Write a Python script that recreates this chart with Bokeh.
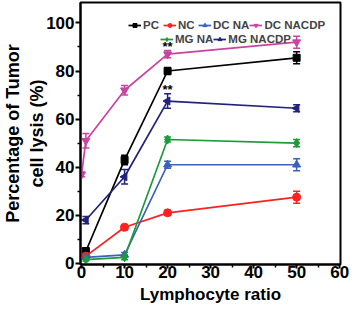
from bokeh.plotting import figure
from bokeh.models import ColumnDataSource, Whisker, Legend, LegendItem, Range1d, FixedTicker
from bokeh.embed import file_html
from bokeh.resources import INLINE
from bokeh.core.properties import value
import math

series_names = ["PC", "NC", "DC NA", "DC NACDP", "MG NA", "MG NACDP"]
x_pc = [1, 10, 20, 50]
y_pc = [5, 43, 80, 85.5]
e_pc = [1.5, 2, 1.5, 2.5]
x_nc = [1, 10, 20, 50]
y_nc = [3, 15, 21, 27.5]
e_nc = [0.5, 1, 1, 2.5]
x_dcna = [1, 10, 20, 50]
y_dcna = [2.5, 3.5, 41, 41]
e_dcna = [0.5, 1, 1.5, 2.5]
x_dcnacdp = [0, 1, 10, 20, 50]
y_dcnacdp = [37, 51, 72, 87, 92]
e_dcnacdp = [1, 3, 2, 1.5, 2.5]
x_mgna = [1, 10, 20, 50]
y_mgna = [1.5, 2.5, 51.5, 50]
e_mgna = [0.5, 1, 1, 1.5]
x_mgnacdp = [1, 10, 20, 50]
y_mgnacdp = [18, 36, 67.5, 64.5]
e_mgnacdp = [1.5, 3, 3, 1.5]
sig_x = [20, 20]
sig_y = [92, 74]
sig_text = ["**", "**"]

colors = ["#000000", "#FF2020", "#3A62B8", "#C8449E", "#1E9A3C", "#22227A"]
markers = ["square", "circle", "triangle", "inverted_triangle", "diamond", "triangle"]
angles = [0, 0, 0, 0, 0, math.pi / 2]
sizes = [7, 8, 8, 8, 9, 8]
data = [(x_pc, y_pc, e_pc), (x_nc, y_nc, e_nc), (x_dcna, y_dcna, e_dcna),
        (x_dcnacdp, y_dcnacdp, e_dcnacdp), (x_mgna, y_mgna, e_mgna), (x_mgnacdp, y_mgnacdp, e_mgnacdp)]

p = figure(width=350, height=306, output_backend="svg", toolbar_location=None,
           x_range=Range1d(-0.25, 60.2), y_range=Range1d(-0.5, 108.5),
           min_border_left=69, min_border_right=10, min_border_top=2, min_border_bottom=0)
p.outline_line_color = "black"
p.outline_line_width = 2
p.grid.visible = False

font = "Liberation Sans"
for ax in [p.xaxis[0], p.yaxis[0]]:
    ax.axis_line_color = "black"
    ax.axis_line_width = 2
    ax.major_tick_line_width = 2
    ax.minor_tick_line_width = 1.5
    ax.major_tick_in = 0
    ax.minor_tick_in = 0
    ax.major_label_text_font = font
    ax.major_label_text_font_style = "bold"
    ax.major_label_text_font_size = "17px"
    ax.major_label_text_color = "black"
    ax.axis_label_text_font = font
    ax.axis_label_text_font_style = "bold"
    ax.axis_label_text_color = "black"

p.xaxis.major_tick_out = 4
p.xaxis.minor_tick_out = 3
p.xaxis.major_label_standoff = -3
p.yaxis.major_tick_out = 5
p.yaxis.minor_tick_out = 3
p.yaxis.major_label_standoff = 1

p.xaxis.ticker = FixedTicker(ticks=[0, 10, 20, 30, 40, 50, 60], minor_ticks=[5, 15, 25, 35, 45, 55])
p.yaxis.ticker = FixedTicker(ticks=[0, 20, 40, 60, 80, 100], minor_ticks=[10, 30, 50, 70, 90])
p.xaxis.axis_label = "Lymphocyte ratio"
p.xaxis.axis_label_text_font_size = "17px"
p.xaxis.axis_label_standoff = 4
p.yaxis.axis_label = "Percentage of Tumor\ncell lysis (%)"
p.yaxis.axis_label_text_font_size = "18px"
p.yaxis.axis_label_standoff = -4

items = []
for i, (xs, ys, es) in enumerate(data):
    src = ColumnDataSource(dict(x=xs, y=ys, lo=[a - b for a, b in zip(ys, es)], hi=[a + b for a, b in zip(ys, es)]))
    ln = p.line("x", "y", source=src, line_color=colors[i], line_width=1.7)
    w = Whisker(source=src, base="x", lower="lo", upper="hi", line_color=colors[i], line_width=1.5)
    w.upper_head.line_color = colors[i]
    w.lower_head.line_color = colors[i]
    w.upper_head.line_width = 1.5
    w.lower_head.line_width = 1.5
    w.upper_head.size = 7
    w.lower_head.size = 7
    p.add_layout(w)
    mk = p.scatter("x", "y", source=src, marker=markers[i], size=sizes[i], angle=angles[i],
                   fill_color=colors[i], line_color=colors[i])
    items.append(LegendItem(label=series_names[i], renderers=[ln, mk]))

p.text(x=sig_x, y=sig_y, text=sig_text, text_font=value(font), text_font_style="bold",
       text_font_size="13px", text_align="center", text_baseline="middle", text_color="black",
       y_offset=4)

def mk_legend(its, loc):
    lg = Legend(items=its, location=loc, orientation="horizontal", padding=0, spacing=0,
                margin=0, glyph_width=13, glyph_height=10, label_height=11, label_standoff=2,
                label_text_font=font, label_text_font_style="bold", label_text_font_size="11.5px",
                background_fill_alpha=0, border_line_alpha=0)
    return lg

p.add_layout(mk_legend(items[:4], (48, 233)), "center")
p.add_layout(mk_legend(items[4:], (80, 219)), "center")

open("out.html", "w").write(file_html(p, INLINE))
